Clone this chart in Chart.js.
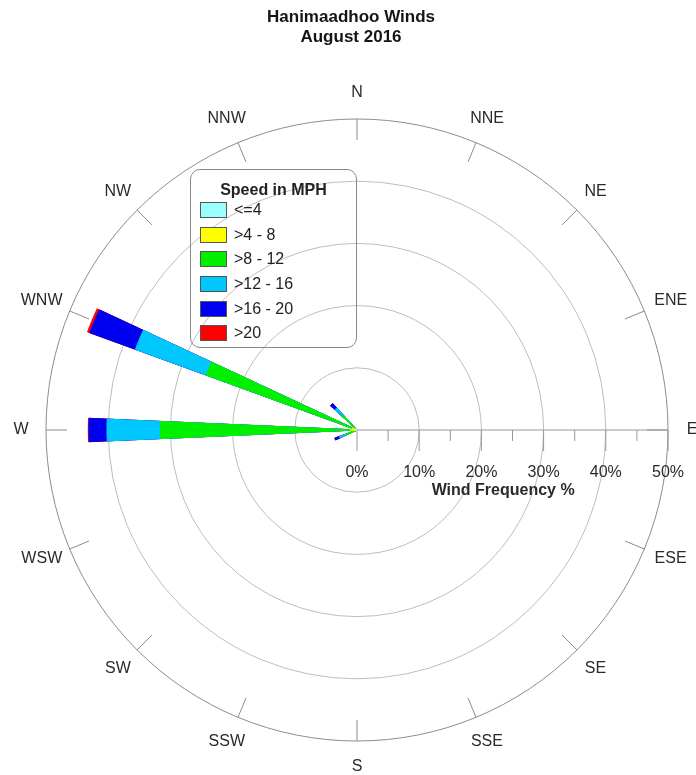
<!DOCTYPE html>
<html>
<head>
<meta charset="utf-8">
<title>Hanimaadhoo Winds</title>
<script src="https://cdn.jsdelivr.net/npm/chart.js@4.4.1/dist/chart.umd.min.js"></script>
<style>
  html, body { margin: 0; padding: 0; background: #fff; }
  #wrap { position: relative; width: 696px; height: 775px; }
  #legend {
    position: absolute; left: 190px; top: 169px; width: 165px; height: 177px;
    border: 1px solid #8a8a8a; border-radius: 10px;
    font-family: "Liberation Sans", Arial, sans-serif; color: #222;
  }
  #legend .title { position: absolute; left: 0; right: 0; top: 10px; line-height: 20px; text-align: center; font-weight: bold; font-size: 16px; }
  #legend .rows { position: absolute; left: 9px; top: 28px; }
  #legend .row { height: 24.6px; display: flex; align-items: center; font-size: 16px; }
  #legend .sw { width: 25px; height: 14px; border: 1px solid #555; margin-right: 7px; }
</style>
</head>
<body>
<div id="wrap">
  <canvas id="rose" width="696" height="775"></canvas>
  <div id="legend"><div class="title">Speed in MPH</div><div class="rows" id="legend-rows"></div></div>
</div>
<script>
// compass directions, clockwise from north
const directions = ['N', 'NNE', 'NE', 'ENE', 'E', 'ESE', 'SE', 'SSE', 'S', 'SSW', 'SW', 'WSW', 'W', 'WNW', 'NW', 'NNW'];
const speedBins = ['<=4', '>4 - 8', '>8 - 12', '>12 - 16', '>16 - 20', '>20'];
const titleLines = ['Hanimaadhoo Winds', 'August 2016'];

// wind frequency (%) per speed bin, by direction
const freqLe4    = [0, 0, 0, 0, 0, 0, 0, 0, 0, 0, 0, 0,   0.3,  0.2,  0.05, 0];
const freq4to8   = [0, 0, 0, 0, 0, 0, 0, 0, 0, 0, 0, 0.1, 0.7,  0.6,  0.15, 0];
const freq8to12  = [0, 0, 0, 0, 0, 0, 0, 0, 0, 0, 0, 1.9, 30.6, 25.0, 3.1,  0];
const freq12to16 = [0, 0, 0, 0, 0, 0, 0, 0, 0, 0, 0, 1.0, 8.6,  12.1, 1.5,  0];
const freq16to20 = [0, 0, 0, 0, 0, 0, 0, 0, 0, 0, 0, 0.8, 2.9,  7.8,  1.0,  0];
const freqGt20   = [0, 0, 0, 0, 0, 0, 0, 0, 0, 0, 0, 0,   0.1,  0.4,  0,    0];

const ringValues = [0, 10, 20, 30, 40, 50];
const ringLabels = ['0%', '10%', '20%', '30%', '40%', '50%'];

const binColors = ['#99ffff', '#ffff00', '#00f000', '#00c8ff', '#0000f0', '#ff0000'];
const FONT = '"Liberation Sans", Arial, sans-serif';
const WEDGE = 5;            // degrees per petal
const STEP = 360 / directions.length;

// each direction becomes 3 slots: right half of petal, gap, left half of next petal
const slotLabels = [];
directions.forEach(d => slotLabels.push(d, '', ''));

const series = [freqLe4, freq4to8, freq8to12, freq12to16, freq16to20, freqGt20];
const datasets = series.map((s, b) => {
  // stacked: each layer goes out to the running total
  const cum = directions.map((d, k) => series.slice(0, b + 1).reduce((t, arr) => t + arr[k], 0));
  const data = [];
  directions.forEach((d, k) => data.push(cum[k], 0, cum[(k + 1) % directions.length]));
  return {
    label: speedBins[b],
    data: data,
    backgroundColor: binColors[b],
    borderColor: binColors[b],
    borderWidth: ctx => (ctx.raw > 0 ? 1 : 0),
    angle: ctx => (ctx.dataIndex % 3 === 1 ? STEP - WEDGE : WEDGE / 2)
  };
});

const legendRows = document.getElementById('legend-rows');
speedBins.forEach((b, i) => {
  const row = document.createElement('div');
  row.className = 'row';
  row.innerHTML = `<span class="sw" style="background:${binColors[i]}"></span><span>${b}</span>`;
  legendRows.appendChild(row);
});

const roseDecor = {
  id: 'roseDecor',
  beforeDatasetsDraw(chart) {
    const r = chart.scales.r;
    const ctx = chart.ctx;
    const R = r.drawingArea;
    ctx.save();
    ctx.strokeStyle = '#8c8c8c';
    ctx.lineWidth = 1;
    directions.forEach((d, k) => {
      const a = r.getPointPosition(k * 3, R - 21);
      const b = r.getPointPosition(k * 3, R);
      ctx.beginPath(); ctx.moveTo(a.x, a.y); ctx.lineTo(b.x, b.y); ctx.stroke();
    });
    // frequency axis toward E
    const eIdx = directions.indexOf('E') * 3;
    const end = r.getPointPosition(eIdx, R);
    ctx.strokeStyle = '#999';
    ctx.beginPath(); ctx.moveTo(r.xCenter, r.yCenter); ctx.lineTo(end.x, end.y); ctx.stroke();
    ringValues.forEach((v, i) => {
      const p = r.getPointPosition(eIdx, r.getDistanceFromCenterForValue(v));
      ctx.beginPath(); ctx.moveTo(p.x, p.y); ctx.lineTo(p.x, p.y + 21); ctx.stroke();
      if (i < ringValues.length - 1) {
        const m = r.getPointPosition(eIdx, r.getDistanceFromCenterForValue((v + ringValues[i + 1]) / 2));
        ctx.beginPath(); ctx.moveTo(m.x, m.y); ctx.lineTo(m.x, m.y + 11); ctx.stroke();
      }
    });
    ctx.restore();
  },
  afterDraw(chart) {
    const r = chart.scales.r;
    const ctx = chart.ctx;
    const R = r.drawingArea;
    ctx.save();
    ctx.textAlign = 'center';
    ctx.textBaseline = 'middle';
    // title
    ctx.fillStyle = '#151515';
    ctx.font = 'bold 17px ' + FONT;
    titleLines.forEach((t, i) => ctx.fillText(t, 351, 17 + i * 20));
    // compass labels
    ctx.fillStyle = '#2a2a2a';
    ctx.font = '16px ' + FONT;
    directions.forEach((d, k) => {
      const p = r.getPointPosition(k * 3, R + 22);
      const w = ctx.measureText(d).width;
      ctx.fillText(d, p.x + Math.cos(p.angle) * w * 0.2, p.y + Math.sin(p.angle) * 4);
    });
    const eIdx = directions.indexOf('E') * 3;
    ringValues.forEach((v, i) => {
      const p = r.getPointPosition(eIdx, r.getDistanceFromCenterForValue(v));
      ctx.fillText(ringLabels[i], p.x, p.y + 43);
    });
    ctx.font = 'bold 16px ' + FONT;
    ctx.textAlign = 'left';
    const q = r.getPointPosition(eIdx, r.getDistanceFromCenterForValue(12));
    ctx.fillText('Wind Frequency %', q.x, q.y + 61);
    ctx.restore();
  }
};

new Chart(document.getElementById('rose'), {
  type: 'polarArea',
  data: { labels: slotLabels, datasets: datasets },
  options: {
    responsive: false,
    animation: false,
    layout: { padding: { left: 46, right: 28, top: 119, bottom: 34 } },
    scales: {
      r: {
        min: 0,
        max: 50,
        startAngle: 0,
        ticks: { display: false, stepSize: 10 },
        angleLines: { display: false },
        pointLabels: { display: false },
        grid: {
          circular: true,
          lineWidth: 1,
          color: ctx => (ctx.index === ringValues.length - 1 ? '#8c8c8c' : '#bdbdbd')
        }
      }
    },
    plugins: {
      legend: { display: false },
      tooltip: { enabled: false },
      title: { display: false }
    }
  },
  plugins: [roseDecor]
});
</script>
</body>
</html>
